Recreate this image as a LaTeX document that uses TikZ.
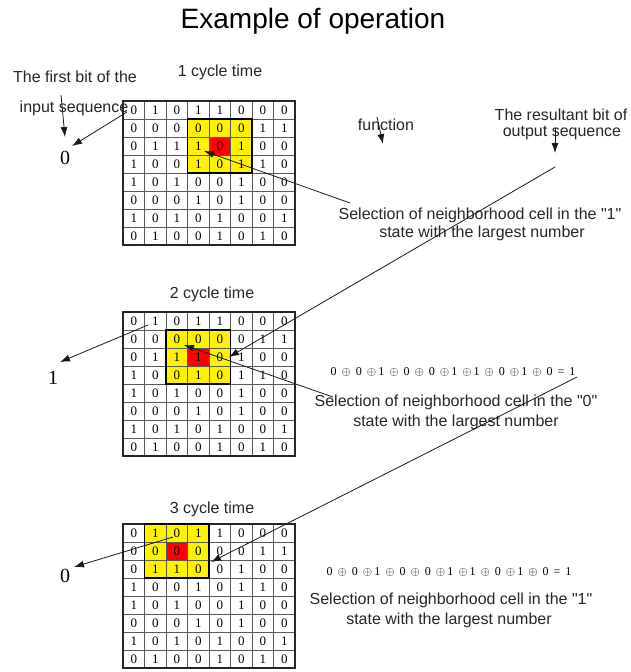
\documentclass[tikz,border=0pt]{standalone}
\usepackage{fontspec}
\setmainfont{Liberation Sans}
\newfontfamily\serifnum{Liberation Serif}
\usetikzlibrary{arrows.meta}

\tikzset{
  cell/.style={draw=black!65, line width=0.7pt, minimum width=21.5pt, minimum height=18pt, inner sep=0pt, font=\serifnum\fontsize{13}{14}\selectfont},
  lbl/.style={font=\fontsize{16}{18}\selectfont, text=black!85, inner sep=0pt},
  ttl/.style={font=\fontsize{28}{30}\selectfont, inner sep=0pt},
  outbit/.style={font=\serifnum\fontsize{20}{21}\selectfont, inner sep=0pt},
  eqn/.style={font=\serifnum\fontsize{12}{13}\selectfont, inner sep=0pt},
  arr/.style={-{Latex[length=10pt,width=7pt]}, line width=0.8pt, draw=black!90},
  hlfill/.style={fill=yellow},
  hotfill/.style={fill=red},
  blockborder/.style={line width=1.5pt, draw=black},
  gridborder/.style={line width=1.5pt, draw=black!85},
}

\newcommand{\mkgrid}[3]{%
  \foreach \rowdata [count=\r from 0] in {#3} {
    \foreach \v [count=\c from 0] in \rowdata {
      \node[cell] (#1-\r-\c) at ({123+21.5*(\c+0.5)}, {#2+18*(\r+0.5)}) {\v};
    }
  }
  \draw[gridborder] (123,#2) rectangle (295,{#2+144});
}
\newcommand{\q}{\textquotedbl}

\begin{document}
\begin{tikzpicture}[x=1pt, y=-1pt]
\useasboundingbox (0,0) rectangle (630,672);

% title
\node[ttl] (title) at (313,21) {Example of operation};

% ---------- grid 1 ----------
\fill[hlfill] (187.5,119) rectangle (252,173);
\fill[hotfill] (209,137) rectangle (230.5,155);
\mkgrid{ga}{101}{{0,1,0,1,1,0,0,0},{0,0,0,0,0,0,1,1},{0,1,1,1,0,1,0,0},{1,0,0,1,0,1,1,0},{1,0,1,0,0,1,0,0},{0,0,0,1,0,1,0,0},{1,0,1,0,1,0,0,1},{0,1,0,0,1,0,1,0}}
\draw[blockborder] (187.5,119) rectangle (252,173);

% ---------- grid 2 ----------
\fill[hlfill] (166,330) rectangle (230.5,384);
\fill[hotfill] (187.5,348) rectangle (209,366);
\mkgrid{gb}{312}{{0,1,0,1,1,0,0,0},{0,0,0,0,0,0,1,1},{0,1,1,1,0,1,0,0},{1,0,0,1,0,1,1,0},{1,0,1,0,0,1,0,0},{0,0,0,1,0,1,0,0},{1,0,1,0,1,0,0,1},{0,1,0,0,1,0,1,0}}
\draw[blockborder] (166,330) rectangle (230.5,384);

% ---------- grid 3 ----------
\fill[hlfill] (144.5,524) rectangle (209,578);
\fill[hotfill] (166,542) rectangle (187.5,560);
\mkgrid{gc}{524}{{0,1,0,1,1,0,0,0},{0,0,0,0,0,0,1,1},{0,1,1,0,0,1,0,0},{1,0,0,1,0,1,1,0},{1,0,1,0,0,1,0,0},{0,0,0,1,0,1,0,0},{1,0,1,0,1,0,0,1},{0,1,0,0,1,0,1,0}}
\draw[blockborder] (144.5,524) rectangle (209,578);

% ---------- labels ----------
\node[lbl] (cyc1) at (220,72) {1 cycle time};
\node[lbl] (first) at (75,77) {The first bit of the};
\node[lbl] (input) at (74,108) {input sequence};
\node[outbit] (out1) at (65,158) {0};
\node[lbl] (func) at (386,125) {function};
\node[lbl] (res1) at (561,115) {The resultant bit of};
\node[lbl] (res2) at (562,133) {output sequence};
\node[lbl] (sela1) at (480,215) {Selection of neighborhood cell in the \q1\q};
\node[lbl] (sela2) at (482,233) {state with the largest number};

\node[lbl] (cyc2) at (212,294) {2 cycle time};
\node[outbit] (out2) at (53,378) {1};
\node[eqn] (eq2) at (453,372) {0 \,$\oplus$\, 0 \,$\oplus$\,1 \,$\oplus$\, 0 \,$\oplus$\, 0 \,$\oplus$\,1 \,$\oplus$\,1 \,$\oplus$\, 0 \,$\oplus$\,1 \,$\oplus$\, 0 \,=\, 1};
\node[lbl] (selb1) at (456,402) {Selection of neighborhood cell in the \q0\q};
\node[lbl] (selb2) at (456,422) {state with the largest number};

\node[lbl] (cyc3) at (212,509) {3 cycle time};
\node[outbit] (out3) at (65,576) {0};
\node[eqn] (eq3) at (449,572) {0 \,$\oplus$\, 0 \,$\oplus$\,1 \,$\oplus$\, 0 \,$\oplus$\, 0 \,$\oplus$\,1 \,$\oplus$\,1 \,$\oplus$\, 0 \,$\oplus$\,1 \,$\oplus$\, 0 \,=\, 1};
\node[lbl] (selc1) at (451,600) {Selection of neighborhood cell in the \q1\q};
\node[lbl] (selc2) at (449,620) {state with the largest number};

% ---------- connector end points ----------
\coordinate (a1s) at (61,95);   \coordinate (a1e) at (65,137);
\coordinate (a2s) at (127,112); \coordinate (a2e) at (72,146);
\coordinate (a3s) at (350,203); \coordinate (a3e) at (204,151);
\coordinate (a4s) at (377,117); \coordinate (a4e) at (383,144);
\coordinate (a5s) at (555,128); \coordinate (a5e) at (555,153);
\coordinate (a6s) at (555,167); \coordinate (a6e) at (229,357);
\coordinate (a7s) at (148,325); \coordinate (a7e) at (60,362);
\coordinate (a8s) at (333,397); \coordinate (a8e) at (184,345);
\coordinate (a9s) at (577,377); \coordinate (a9e) at (211,562);
\coordinate (a10s) at (173,537); \coordinate (a10e) at (74,567);

% ---------- connectors ----------
\draw[arr] (a1s) -- (a1e);
\draw[arr] (a2s) -- (a2e);
\draw[arr] (a3s) -- (a3e);
\draw[arr] (a4s) -- (a4e);
\draw[arr] (a5s) -- (a5e);
\draw[arr] (a6s) -- (a6e);
\draw[arr] (a7s) -- (a7e);
\draw[arr] (a8s) -- (a8e);
\draw[arr] (a9s) -- (a9e);
\draw[arr] (a10s) -- (a10e);
\end{tikzpicture}
\end{document}
